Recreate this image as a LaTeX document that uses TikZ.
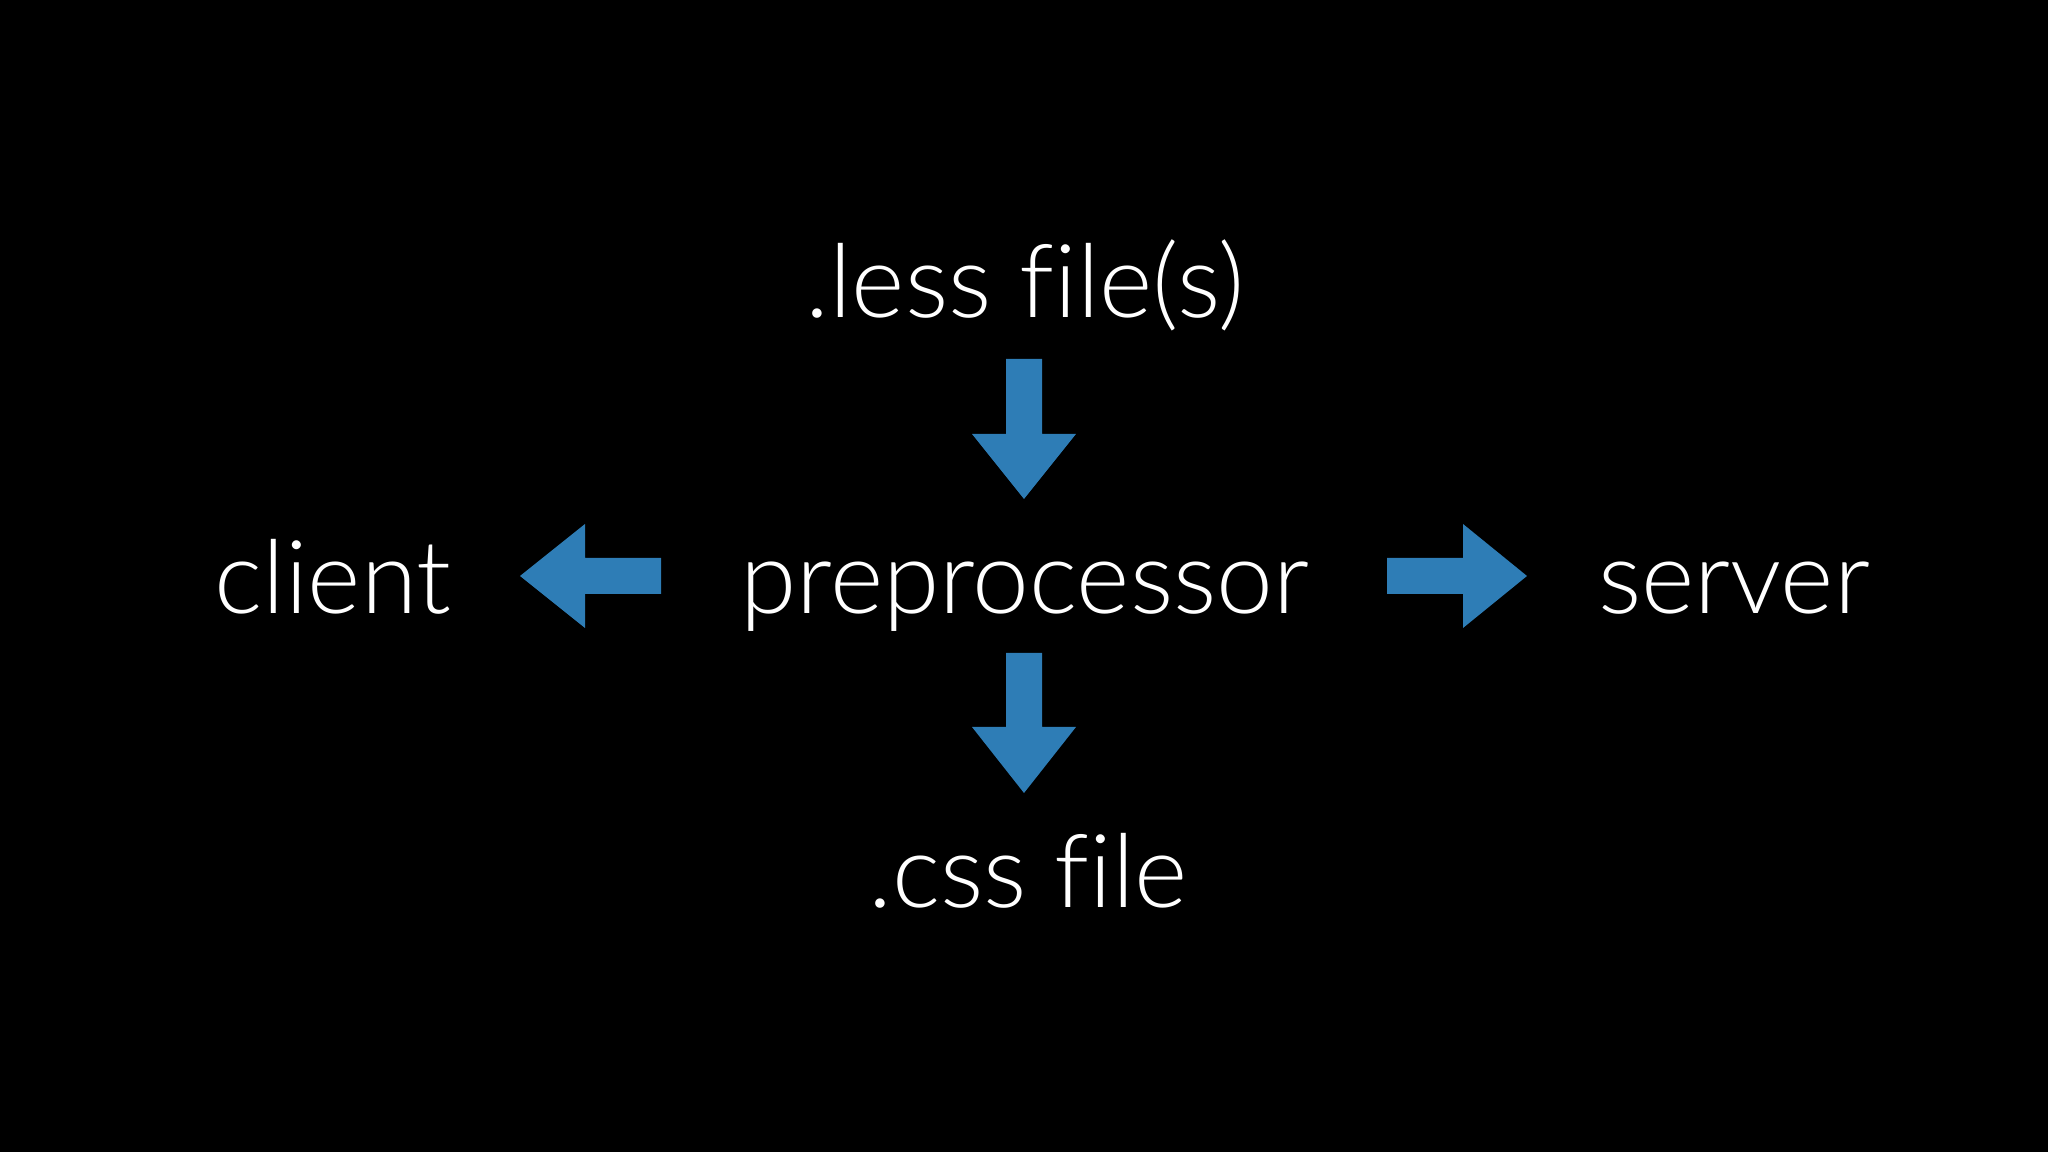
\documentclass[tikz,border=0pt]{standalone}
\usepackage{fontspec}
\setmainfont{Lato}[UprightFont={* Light},Ligatures=NoCommon]
\definecolor{arrowblue}{RGB}{46,125,182}
\begin{document}
\begin{tikzpicture}[x=0.01cm,y=0.01cm,
  lbl/.style={text=white,font=\fontsize{29}{34}\selectfont,anchor=base,inner sep=0pt},
  arr/.style={fill=arrowblue,draw=none}]
\fill[black] (0,0) rectangle (2048,1152);
\useasboundingbox (0,0) rectangle (2048,1152);
\node[lbl] (less) at (1025,834) {.less file(s)};
\node[lbl] (pre) at (1025,538) {preprocessor};
\node[lbl] (client) at (333,538) {client};
\node[lbl] (server) at (1734,538) {server};
\node[lbl] (css) at (1028,244) {.css file};
% down arrow 1
\fill[arr] (1006,793) -- (1042,793) -- (1042,718) -- (1076,718) -- (1024,653) -- (972,718) -- (1006,718) -- cycle;
% down arrow 2
\fill[arr] (1006,499) -- (1042,499) -- (1042,425) -- (1076,425) -- (1024,359) -- (972,425) -- (1006,425) -- cycle;
% left arrow
\fill[arr] (661,594) -- (585,594) -- (585,628) -- (520,576) -- (585,524) -- (585,558) -- (661,558) -- cycle;
% right arrow
\fill[arr] (1387,594) -- (1463,594) -- (1463,628) -- (1527,576) -- (1463,524) -- (1463,558) -- (1387,558) -- cycle;
\end{tikzpicture}
\end{document}
